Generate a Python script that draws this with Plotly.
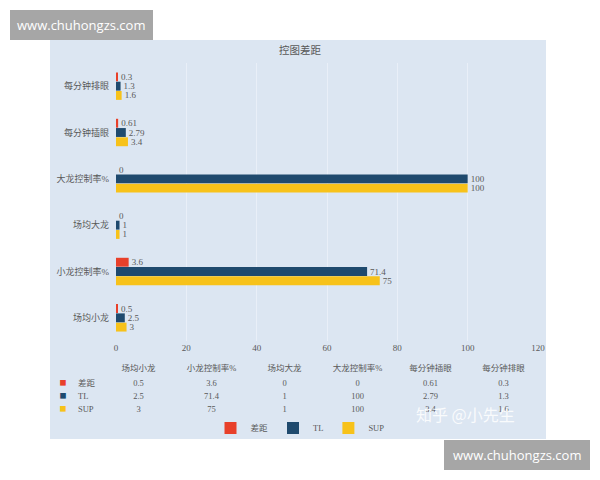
import plotly.graph_objects as go

# ---------------- data ----------------
categories = ["场均小龙", "小龙控制率%", "场均大龙", "大龙控制率%", "每分钟插眼", "每分钟排眼"]
gap_vals = [0.5, 3.6, 0, 0, 0.61, 0.3]
tl_vals = [2.5, 71.4, 1, 100, 2.79, 1.3]
sup_vals = [3, 75, 1, 100, 3.4, 1.6]
series_names = ["差距", "TL", "SUP"]
x_ticks = [0, 20, 40, 60, 80, 100, 120]
title_text = "控图差距"
watermark_url = "www.chuhongzs.com"
watermark_zh = "知乎 @小先生"

# ---------------- styles ----------------
C_GAP = "#e8402a"
C_TL = "#1f4a6e"
C_SUP = "#f7c21a"
BG = "#dce6f2"
GRID = "#e9eff8"
CLEAR = "rgba(0,0,0,0)"
TXT = "#595959"
FONT = "Liberation Serif, Noto Sans CJK SC"
CJK = "Noto Sans CJK SC"

W, H = 600, 480
ML, MR, MT, MB = 50, 54, 63, 40
PW = W - ML - MR
PH = H - MT - MB


def px_x(px):
    return (px - ML) / PW


def px_y(py):
    return (H - MB - py) / PH


fig = go.Figure()

bar_specs = [(series_names[2], sup_vals, C_SUP),
             (series_names[1], tl_vals, C_TL),
             (series_names[0], gap_vals, C_GAP)]
for name, vals, col in bar_specs:
    fig.add_trace(go.Bar(
        name=name, y=categories, x=vals, orientation="h",
        marker=dict(color=col, line=dict(width=0)),
        text=[str(v) for v in vals], textposition="outside",
        textfont=dict(size=9, color=TXT, family=FONT),
        constraintext="none", cliponaxis=False,
        xaxis="x", yaxis="y",
    ))

# ---------------- data table ----------------
n = len(categories)
marker_col = ["■", "■", "■"]
name_col = series_names
data_cols = [[str(g), str(t), str(s)] for g, t, s in zip(gap_vals, tl_vals, sup_vals)]
cols = [marker_col, name_col] + data_cols
font_colors = [[C_GAP, C_TL, C_SUP], [TXT] * 3] + [[TXT] * 3 for _ in range(n)]
font_fams = [CJK, FONT] + [FONT] * n
fig.add_trace(go.Table(
    domain=dict(x=[px_x(56), px_x(540)], y=[px_y(414), px_y(357)]),
    columnwidth=[14, 32] + [73] * n,
    header=dict(values=["", ""] + categories, height=15,
                fill=dict(color=CLEAR), line=dict(color=CLEAR, width=0),
                font=dict(size=8.5, color=TXT, family=FONT), align="center"),
    cells=dict(values=cols, height=13,
               fill=dict(color=CLEAR), line=dict(color=CLEAR, width=0),
               font=dict(size=[7, 8.5] + [8.5] * n, color=font_colors, family=font_fams),
               align=["center", "left"] + ["center"] * n),
))

fig.update_layout(
    width=W, height=H,
    margin=dict(l=ML, r=MR, t=MT, b=MB),
    paper_bgcolor="white", plot_bgcolor="rgba(0,0,0,0)",
    font=dict(family=FONT, color=TXT, size=9),
    barmode="group", bargap=0.4, bargroupgap=0.04,
    title=dict(text=title_text, x=0.5, xanchor="center", xref="container",
               y=1 - 50 / H, yanchor="middle", yref="container",
               font=dict(size=10.5, color=TXT, family=FONT)),
    xaxis=dict(domain=[px_x(116), px_x(538)], range=[0, 120], tickvals=x_ticks,
               showgrid=True, gridcolor=GRID, gridwidth=1, zeroline=False,
               showline=False, ticks="", tickfont=dict(size=9, color=TXT)),
    yaxis=dict(domain=[px_y(341), 1], categoryorder="array", categoryarray=categories,
               showgrid=False, zeroline=False, showline=False, ticks="",
               ticklabelstandoff=6, tickfont=dict(size=9, color=TXT)),
    showlegend=True,
    legend=dict(orientation="h", traceorder="reversed", x=px_x(300), xanchor="center",
                y=px_y(428), yanchor="middle", bgcolor="rgba(0,0,0,0)",
                font=dict(size=8.5, color=TXT), itemwidth=30, tracegroupgap=0),
    shapes=[
        dict(type="rect", xref="paper", yref="paper", layer="below",
             x0=px_x(50), x1=px_x(546), y0=px_y(439), y1=px_y(40),
             fillcolor=BG, line=dict(width=0)),
        dict(type="rect", xref="paper", yref="paper", layer="above",
             x0=px_x(10), x1=px_x(153), y0=px_y(40), y1=px_y(10),
             fillcolor="#a6a6a6", line=dict(width=0)),
        dict(type="rect", xref="paper", yref="paper", layer="above",
             x0=px_x(444), x1=px_x(590), y0=px_y(470), y1=px_y(440),
             fillcolor="#a6a6a6", line=dict(width=0)),
    ],
    annotations=[
        dict(text=watermark_url, xref="paper", yref="paper", x=px_x(81), y=px_y(25),
             xanchor="center", yanchor="middle", showarrow=False,
             font=dict(size=13, color="white", family="Open Sans")),
        dict(text=watermark_url, xref="paper", yref="paper", x=px_x(517), y=px_y(455),
             xanchor="center", yanchor="middle", showarrow=False,
             font=dict(size=13, color="white", family="Open Sans")),
        dict(text=watermark_zh, xref="paper", yref="paper", x=px_x(465), y=px_y(414),
             xanchor="center", yanchor="middle", showarrow=False,
             font=dict(size=16, color="rgba(255,255,255,0.85)", family=CJK)),
    ],
)

fig.write_html("out.html", config={"displayModeBar": False},
               post_script="document.body.style.margin='0';")
